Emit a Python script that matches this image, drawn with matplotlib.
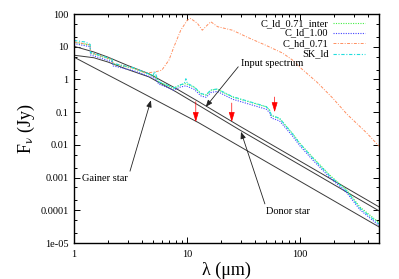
import matplotlib
matplotlib.use('Agg')
import matplotlib.pyplot as plt
from matplotlib.ticker import FixedLocator, FixedFormatter, NullFormatter

# model spectra (lambda in micron, F_nu in Jy)
lam_green = [1.0, 1.39, 1.40, 2.16, 2.22, 3.39, 4.33, 5.2, 5.65, 7.7, 8.7, 9.8, 11.6, 13.4, 14.8,
             16.4, 18.6, 25.3, 35.8, 50.5, 54.0, 56.2, 66.3, 86.5, 100, 130, 185, 262, 341, 505]
f_green = [13.8, 11.2, 6.4, 4.0, 3.0, 2.17, 1.56, 1.26, 0.83, 0.54, 0.67, 0.75, 0.58, 0.36, 0.33,
           0.47, 0.50, 0.29, 0.206, 0.145, 0.115, 0.078, 0.064, 0.022, 0.0113, 0.0042, 0.00118,
           4.1e-4, 1.27e-4, 4.2e-5]

lam_blue = lam_green
f_blue = [12.5, 10.0, 5.6, 3.5, 2.6, 1.85, 1.35, 1.08, 0.72, 0.47, 0.58, 0.64, 0.50, 0.31, 0.285,
          0.40, 0.43, 0.25, 0.175, 0.123, 0.098, 0.066, 0.054, 0.0185, 0.0095, 0.0035, 0.001,
          3.4e-4, 1.05e-4, 3.4e-5]

lam_orange = [1.0, 1.39, 1.40, 2.16, 2.22, 3.39, 4.33, 5.28, 6.0, 6.94, 7.68, 8.83, 10.1, 10.8,
              12.4, 13.7, 15.2, 16.3, 18.7, 25.3, 35.8, 49.7, 70.5, 86.5, 100, 142, 196, 262, 394, 505]
f_orange = [14.0, 11.5, 6.6, 4.1, 3.1, 2.2, 1.56, 1.71, 1.92, 3.9, 9.9, 32, 65, 73,
            52, 32, 46, 58, 41, 32, 18.3, 11.2, 6.4, 3.9, 2.38, 0.83, 0.27, 0.087, 0.0228, 0.0091]

lam_cyan = [1.0, 1.25, 1.39, 1.40, 2.16, 2.22, 3.39, 4.33, 5.0, 5.2, 5.4, 5.65, 7.7, 8.7, 9.5, 9.8,
            10.1, 11.6, 13.4, 14.8, 16.4, 18.6, 25.3, 35.8, 50.5, 54.0, 56.2, 66.3, 86.5, 100, 130,
            185, 262, 341, 505]
f_cyan = [15.5, 14.0, 11.8, 6.7, 4.2, 3.1, 2.25, 1.6, 1.3, 1.75, 1.2, 0.85, 0.55, 0.68, 0.75, 1.05,
          0.76, 0.59, 0.37, 0.34, 0.48, 0.51, 0.30, 0.21, 0.148, 0.117, 0.08, 0.065, 0.0215, 0.011,
          0.0040, 0.00112, 3.8e-4, 1.17e-4, 3.8e-5]

# stellar components
lam_star = [1.0, 1.5, 2.0, 3.0, 4.6, 8.0, 12.8, 29.2, 505]
f_input = [10.3, 6.9, 4.8, 2.66, 1.5, 0.53, 0.207, 0.0378, 1.27e-4]
f_donor = [5.5, 4.6, 3.4, 2.0, 1.2, 0.42, 0.16, 0.029, 9.6e-5]
lam_gainer = [1.0, 1.5, 3.0, 12.8, 505]
f_gainer = [4.8, 2.3, 0.66, 0.047, 3.1e-5]

# IRAS upper limits
lim_lam = [12, 25, 60]
lim_top = [0.21, 0.19, 0.29]
lim_bottom = [0.05, 0.05, 0.10]

series_names = ['C_ld_0.71_inter', 'C_ld_1.00', 'C_hd_0.71', 'SK_ld']

yticks = [100, 10, 1, 0.1, 0.01, 0.001, 0.0001, 1e-5]
ytick_labels = ['100', '10', '1', '0.1', '0.01', '0.001', '0.0001', '1e-05']
xticks = [1, 10, 100]
xtick_labels = ['1', '10', '100']

plt.rcParams['font.family'] = 'serif'
plt.rcParams['font.serif'] = ['Liberation Serif', 'DejaVu Serif']
plt.rcParams['mathtext.fontset'] = 'stix'

fig = plt.figure(figsize=(3.99, 2.79), dpi=100)
ax = fig.add_axes([0.1855, 0.129, 0.7645, 0.8208])

star_col = '#3a3a3a'
ax.plot(lam_star, f_input, color=star_col, lw=0.7)
ax.plot(lam_star, f_donor, color=star_col, lw=0.7)
ax.plot(lam_gainer, f_gainer, color=star_col, lw=0.7)

styles = [
    dict(color='#44ee44', ls=(0, (1, 1.2)), lw=0.8),
    dict(color='#4444ff', ls=(0, (1, 1.2)), lw=0.8),
    dict(color='#ff8f60', ls=(0, (3, 1.5, 1, 1.5)), lw=0.7),
    dict(color='#22dddd', ls=(0, (3, 1.5, 1, 1.5)), lw=0.8),
]
data = [(lam_green, f_green), (lam_blue, f_blue), (lam_orange, f_orange), (lam_cyan, f_cyan)]
for (xs, ys), st in zip(data, styles):
    ax.plot(xs, ys, **st)

for lam, top, bot in zip(lim_lam, lim_top, lim_bottom):
    ax.annotate('', xy=(lam, bot), xytext=(lam, top),
                arrowprops=dict(arrowstyle='-|>,head_length=0.6,head_width=0.18',
                                color='red', lw=0.5, shrinkA=0, shrinkB=0, mutation_scale=10))

ax.set_xscale('log')
ax.set_yscale('log')
ax.set_xlim(1, 505)
ax.set_ylim(1e-5, 100)

ax.yaxis.set_major_locator(FixedLocator(yticks))
ax.yaxis.set_major_formatter(FixedFormatter(ytick_labels))
ax.xaxis.set_major_locator(FixedLocator(xticks))
ax.xaxis.set_major_formatter(FixedFormatter(xtick_labels))
ax.xaxis.set_minor_locator(FixedLocator([m * 10 ** e for e in range(0, 3) for m in range(2, 10)]))
ax.yaxis.set_minor_locator(FixedLocator([m * 10.0 ** e for e in range(-5, 2) for m in (2, 5)]))
ax.xaxis.set_minor_formatter(NullFormatter())
ax.yaxis.set_minor_formatter(NullFormatter())
ax.tick_params(which='both', direction='in', top=True, right=True, labelsize=7.5, width=0.7)
ax.tick_params(which='major', length=4.5)
ax.tick_params(which='minor', length=2.5)
ax.tick_params(axis='y', pad=4)
ax.tick_params(axis='x', pad=5)
for sp in ax.spines.values():
    sp.set_linewidth(1.0)

ax.set_xlabel('λ (μm)', fontsize=13, labelpad=2)
ax.set_ylabel(r'F$_\mathrm{\nu}$ (Jy)', fontsize=13, labelpad=2)

# legend drawn gnuplot-style: text right-aligned, sample to the right
rows = [0.959, 0.916, 0.872, 0.827]
for name, st, yy in zip(series_names, styles, rows):
    ax.text(0.834, yy, name, transform=ax.transAxes, ha='right', va='center', fontsize=7.5)
    ax.plot([0.849, 0.954], [yy, yy], transform=ax.transAxes, **st)

arrow_kw = dict(arrowstyle='-|>,head_length=0.5,head_width=0.2', color='#222222', lw=0.6,
                shrinkA=0, shrinkB=0, mutation_scale=8)
ax.annotate('Input spectrum', xy=(14.7, 0.145), xytext=(30.2, 3.1), fontsize=7.5,
            ha='left', va='center', arrowprops=dict(relpos=(0, 0.5), **arrow_kw))
ax.annotate('Gainer star', xy=(4.8, 0.23), xytext=(1.17, 9.4e-4), fontsize=7.5,
            ha='left', va='center', arrowprops=dict(relpos=(1, 0.4), **arrow_kw))
ax.annotate('Donor star', xy=(30.2, 0.025), xytext=(50.4, 9.4e-5), fontsize=7.5,
            ha='left', va='center', arrowprops=dict(relpos=(0, 0.9), **arrow_kw))

fig.savefig('out.png', dpi=100)
